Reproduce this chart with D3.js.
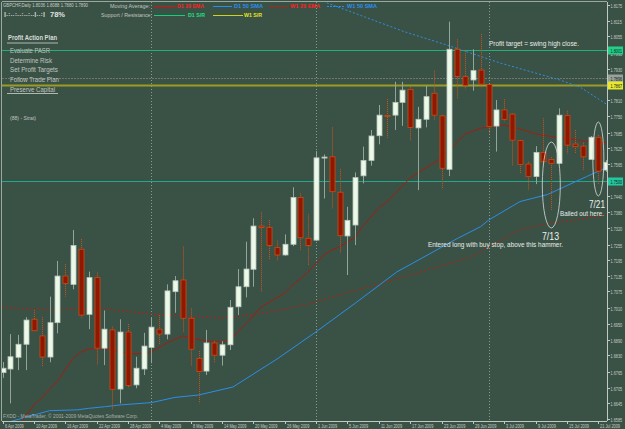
<!DOCTYPE html>
<html><head><meta charset="utf-8">
<script src="https://cdn.jsdelivr.net/npm/d3@7"></script>
<style>body{margin:0;background:#3a5246;} svg{display:block;}</style>
</head><body><svg id="c" width="625" height="429"></svg>
<script>
// ---------- DATA ----------
const openP  = [1.6763,1.6777,1.6822,1.6872,1.6968,1.6904,1.6823,1.6955,1.7134,1.7102,1.7237,1.6987,1.7128,1.6857,1.6927,1.6700,1.6919,1.6716,1.6777,1.6860,1.6930,1.6911,1.7074,1.7119,1.6972,1.6818,1.6769,1.6877,1.6830,1.6870,1.7016,1.7093,1.7160,1.7326,1.7321,1.7243,1.7215,1.7256,1.7436,1.7279,1.7272,1.7590,1.7592,1.7456,1.7288,1.7330,1.7519,1.7578,1.7673,1.7751,1.7752,1.7801,1.7851,1.7703,1.7736,1.7836,1.7749,1.7544,1.8005,1.7900,1.7887,1.7925,1.7870,1.7710,1.7772,1.7756,1.7654,1.7564,1.7516,1.7609,1.7582,1.7567,1.7750,1.7641,1.7633,1.7582,1.7667,1.7541];
const highP  = [1.6804,1.6911,1.6908,1.6976,1.7004,1.6976,1.7055,1.7192,1.7180,1.7311,1.7276,1.7151,1.7147,1.7002,1.6940,1.6968,1.6950,1.6824,1.6916,1.6973,1.6984,1.7102,1.7134,1.7247,1.7010,1.6846,1.6927,1.6885,1.6884,1.7042,1.7161,1.7266,1.7356,1.7379,1.7349,1.7270,1.7294,1.7475,1.7452,1.7371,1.7614,1.7601,1.7705,1.7544,1.7400,1.7532,1.7631,1.7695,1.7791,1.7814,1.7880,1.7880,1.7859,1.7784,1.7864,1.7923,1.7752,1.8111,1.8043,1.7999,1.8005,1.8063,1.7871,1.7810,1.7813,1.7758,1.7656,1.7573,1.7633,1.7740,1.7591,1.7778,1.7769,1.7695,1.7646,1.7672,1.7676,1.7580];
const lowP   = [1.6743,1.6645,1.6773,1.6773,1.6920,1.6786,1.6803,1.6914,1.7055,1.7083,1.6974,1.6930,1.6792,1.6792,1.6622,1.6645,1.6703,1.6703,1.6754,1.6799,1.6869,1.6891,1.6993,1.6920,1.6789,1.6645,1.6754,1.6800,1.6790,1.6850,1.6984,1.7052,1.7093,1.7074,1.7196,1.7192,1.7212,1.7249,1.7234,1.7176,1.7269,1.7432,1.7394,1.7221,1.7138,1.7253,1.7490,1.7558,1.7640,1.7665,1.7695,1.7711,1.7654,1.7464,1.7705,1.7731,1.7467,1.7518,1.7813,1.7851,1.7846,1.7855,1.7679,1.7612,1.7727,1.7557,1.7529,1.7464,1.7487,1.7557,1.7388,1.7564,1.7605,1.7603,1.7541,1.7582,1.7487,1.7534];
const closeP = [1.6780,1.6824,1.6872,1.6965,1.6924,1.6823,1.6955,1.7134,1.7106,1.7251,1.6984,1.7128,1.6857,1.6930,1.6699,1.6919,1.6714,1.6780,1.6865,1.6938,1.6911,1.7077,1.7116,1.6972,1.6853,1.6767,1.6877,1.6830,1.6870,1.7014,1.7093,1.7161,1.7326,1.7321,1.7251,1.7215,1.7256,1.7436,1.7281,1.7251,1.7588,1.7591,1.7458,1.7289,1.7348,1.7512,1.7578,1.7672,1.7752,1.7749,1.7801,1.7848,1.7705,1.7736,1.7823,1.7752,1.7548,1.8005,1.7900,1.7866,1.7923,1.7871,1.7708,1.7772,1.7736,1.7656,1.7563,1.7516,1.7609,1.7573,1.7567,1.7752,1.7637,1.7631,1.7592,1.7667,1.7537,1.7571];

// moving averages: [bar index, price]
const d1Ema20Idx = [2,4,5,7,9,10,11,13,15,17,19,21,23,24,26,28,29,31,33,36,37,38,39,41,42,43,45,46,48,49,52,54,56,57,59,61,62,64,66,68,70,72,74,76,77];
const d1Ema20Val = [1.6558,1.6639,1.6666,1.6731,1.6819,1.6842,1.6854,1.6857,1.6842,1.6835,1.6843,1.6878,1.6904,1.6896,1.6885,1.6881,1.6888,1.6950,1.7015,1.7069,1.7100,1.7123,1.7150,1.7215,1.7234,1.7246,1.7284,1.7327,1.7396,1.7418,1.7511,1.7549,1.7587,1.7618,1.7679,1.7702,1.7707,1.7714,1.7699,1.7680,1.7670,1.7662,1.7654,1.7647,1.7645];
const d1Sma50Idx = [1,6,9.5,11,13,15,19,22,25,29.4,35,40,45,50.3,53.5,58,61,62,66,69.5,74.5,77];
const d1Sma50Val = [1.6575,1.6617,1.6620,1.6626,1.6632,1.6639,1.6648,1.6668,1.6677,1.6708,1.6815,1.6920,1.7030,1.7150,1.7203,1.7278,1.7324,1.7349,1.7420,1.7447,1.7516,1.7550];
const w1Ema20Idx = [0,6,13,19,25,28,33,38.6,44,50,55,59.4,66,69.5,77];
const w1Ema20Val = [1.7013,1.7004,1.7008,1.6988,1.6978,1.6972,1.6990,1.7023,1.7070,1.7120,1.7165,1.7203,1.7311,1.7334,1.7368];
const w1Sma50Idx = [40,41.4,51.3,56.7,63.5,71.1,73.7,77];
const w1Sma50Val = [1.8205,1.8183,1.8072,1.8021,1.7952,1.7887,1.7859,1.7795];

const yTickLabels = [1.8175,1.8115,1.8055,1.7990,1.7930,1.7870,1.7810,1.7750,1.7685,1.7625,1.7565,1.7500,1.7440,1.7380,1.7320,1.7255,1.7195,1.7135,1.7075,1.7010,1.6950,1.6890,1.6830,1.6765,1.6705,1.6645,1.6585];
const xTickIdx = [0,4,8,12,16,20,24,28,32,36,40,44,48,52,56,60,64,68,72,76];
const xTickLabels = ["6 Apr 2009","10 Apr 2009","16 Apr 2009","22 Apr 2009","28 Apr 2009","4 May 2009","8 May 2009","14 May 2009","20 May 2009","26 May 2009","1 Jun 2009","5 Jun 2009","11 Jun 2009","17 Jun 2009","23 Jun 2009","29 Jun 2009","3 Jul 2009","9 Jul 2009","15 Jul 2009","21 Jul 2009"];
const monthSepIdx = [19,40,62];
const levelPrices = [1.8001,1.7896,1.7867,1.7500];
const levelLabels = ["1.8001","1.7896","1.7867","1.7500"];
const planItems = ["Evaluate PASR","Determine Risk","Set Profit Targets","Follow Trade Plan","Preserve Capital"];

// ---------- CHART ----------
const W=625,H=429, L=2, R=607, T=2, B=421;
const svg = d3.select("#c");
const afont = "Arial, 'Liberation Sans', sans-serif";
svg.append("rect").attr("width",W).attr("height",H).attr("fill","#3a5246");

const x = d3.scaleLinear().domain([0,77]).range([2.5, 2.5+7.84*77]);
const y = d3.scaleLinear().domain([1.6585,1.8175]).range([419,5]);

svg.append("defs").append("clipPath").attr("id","pc").append("rect")
  .attr("x",L).attr("y",T).attr("width",R-L).attr("height",B-T);
const plot = svg.append("g").attr("clip-path","url(#pc)");

// month separators
plot.selectAll(".ms").data(monthSepIdx).enter().append("line")
  .attr("x1",d=>Math.round(x(d))+0.5).attr("x2",d=>Math.round(x(d))+0.5)
  .attr("y1",T).attr("y2",B).attr("stroke","#8a9a92").attr("stroke-dasharray","1,2");

// level lines
const levColors = ["#22b07a","#6e786e","#9c9c22","#1fa88c"];
const levWidth = [1,1,2,1];
levelPrices.forEach((p,k)=>{
  plot.append("line").attr("x1",L).attr("x2",R)
    .attr("y1",Math.round(y(p))+0.5).attr("y2",Math.round(y(p))+0.5)
    .attr("stroke",levColors[k]).attr("stroke-width",levWidth[k])
    .attr("stroke-dasharray",k===1?"2,1":null);
});

// MAs
function maLine(idx,val){ return idx.map((d,i)=>[x(d),y(val[i])]); }
const lg = d3.line();
plot.append("path").attr("d",lg(maLine(w1Sma50Idx,w1Sma50Val))).attr("fill","none").attr("stroke","#2f8de0").attr("stroke-dasharray","2,2");
plot.append("path").attr("d",lg(maLine(w1Ema20Idx,w1Ema20Val))).attr("fill","none").attr("stroke","#b02010").attr("stroke-dasharray","2,2");
plot.append("path").attr("d",lg(maLine(d1Sma50Idx,d1Sma50Val))).attr("fill","none").attr("stroke","#2a8ee8");
plot.append("path").attr("d",lg(maLine(d1Ema20Idx,d1Ema20Val))).attr("fill","none").attr("stroke","#a01e10");

// candles
const bars = d3.range(openP.length).map(i=>({i,o:openP[i],h:highP[i],l:lowP[i],c:closeP[i]}));
const cg = plot.selectAll(".cd").data(bars).enter().append("g");
cg.append("line")
  .attr("x1",d=>Math.round(x(d.i))+0.5).attr("x2",d=>Math.round(x(d.i))+0.5)
  .attr("y1",d=>y(d.h)).attr("y2",d=>y(d.l))
  .attr("stroke",d=>d.c>=d.o?"#93a59a":"#d0501a")
  .attr("stroke-dasharray",d=>d.c>=d.o?null:"1,1");
cg.append("rect")
  .attr("x",d=>Math.round(x(d.i))-2).attr("width",5)
  .attr("y",d=>y(Math.max(d.o,d.c)))
  .attr("height",d=>Math.max(1,Math.abs(y(d.o)-y(d.c))))
  .attr("fill",d=>d.c>=d.o?"#ecf8e8":"#8e1800")
  .attr("stroke",d=>d.c>=d.o?"#b8c6bc":"#d24a12")
  .attr("stroke-width",0.8);

// frame
svg.append("line").attr("x1",R+0.5).attr("x2",R+0.5).attr("y1",T).attr("y2",B).attr("stroke","#c0c8c4");
svg.append("line").attr("x1",L).attr("x2",R).attr("y1",B+0.5).attr("y2",B+0.5).attr("stroke","#c0c8c4");
svg.append("line").attr("x1",L).attr("x2",R).attr("y1",T-0.5).attr("y2",T-0.5).attr("stroke","#9aa8a0");
svg.append("line").attr("x1",L-0.5).attr("x2",L-0.5).attr("y1",T).attr("y2",B).attr("stroke","#9aa8a0");

// y axis (compressed labels)
const ya = svg.append("g");
function ylab(t,yy,col){
  ya.append("text").attr("transform",`translate(610.5,${yy}) scale(0.68,1)`).text(t)
    .attr("font-family",afont).attr("font-size",5.6).attr("fill",col);
}
yTickLabels.forEach(p=>{
  const yy=Math.round(y(p))+0.5;
  ya.append("line").attr("x1",R).attr("x2",R+3).attr("y1",yy).attr("y2",yy).attr("stroke","#c0c8c4");
  ylab(p.toFixed(4),yy+2,"#c8ccc8");
});
const boxFill = ["#22d08a","#9aa09a","#e8e830","#22c8a0"];
levelPrices.forEach((p,k)=>{
  const yy=Math.round(y(p));
  ya.append("rect").attr("x",608).attr("y",yy-3.5).attr("width",15).attr("height",8).attr("fill",boxFill[k]);
  ylab(levelLabels[k],yy+2.5,"#10201a");
});

// x axis
xTickIdx.forEach((d,k)=>{
  const xx=Math.round(x(d))+0.5;
  svg.append("line").attr("x1",xx).attr("x2",xx).attr("y1",B).attr("y2",B+3).attr("stroke","#c0c8c4");
  svg.append("text").attr("transform",`translate(${xx+1.5},427.5) scale(0.72,1)`).text(xTickLabels[k])
    .attr("font-family",afont).attr("font-size",5.4).attr("fill","#c8ccc8");
});

// header text
function txt(t,xx,yy,size,col,weight,len){
  const e = svg.append("text").attr("x",xx).attr("y",yy).text(t).attr("font-family",afont)
    .attr("font-size",size).attr("fill",col).attr("font-weight",weight||"normal");
  if(len) e.attr("textLength",len).attr("lengthAdjust","spacingAndGlyphs");
  return e;
}
txt("GBPCHF,Daily  1.8036 1.8088 1.7880 1.7890",3,7,4.8,"#c8ccc8",null,85);
txt("|.:..:..:..:..|..:|",4,16,5,"#d0d4d0","bold",41);
txt("78%",50,16.5,7.5,"#e0e4e0","bold",15);
txt("Moving Average:",110,8,5.8,"#c0c4c0",null,40);
txt("Support / Resistance:",101,16.5,5.8,"#c0c4c0",null,51);
svg.append("line").attr("x1",154).attr("x2",175).attr("y1",6.5).attr("y2",6.5).attr("stroke","#e01010");
txt("D1 20 EMA",177,8,5.5,"#ff2020","bold",27);
svg.append("line").attr("x1",213).attr("x2",232).attr("y1",6.5).attr("y2",6.5).attr("stroke","#2a8ee8");
txt("D1 50 SMA",234,8,5.5,"#2a90f0","bold",29);
svg.append("line").attr("x1",270).attr("x2",288).attr("y1",6.5).attr("y2",6.5).attr("stroke","#e01010").attr("stroke-dasharray","2,1");
txt("W1 20 EMA",290,8,5.5,"#ff2020","bold",30);
svg.append("line").attr("x1",327).attr("x2",345).attr("y1",6.5).attr("y2",6.5).attr("stroke","#2a8ee8").attr("stroke-dasharray","2,1");
txt("W1 50 SMA",347,8,5.5,"#2a90f0","bold",30);
svg.append("line").attr("x1",154).attr("x2",185).attr("y1",15.5).attr("y2",15.5).attr("stroke","#10d080");
txt("D1 S/R",188,17,5.5,"#20e080","bold",17);
svg.append("line").attr("x1",213).attr("x2",243).attr("y1",15.5).attr("y2",15.5).attr("stroke","#d0d020");
txt("W1 S/R",244,17,5.5,"#e8e820","bold",18);

txt("Profit Action Plan",8,40,6.8,"#d8dcd8","bold",49);
svg.append("line").attr("x1",7).attr("x2",58).attr("y1",43).attr("y2",43).attr("stroke","#b0b8b0");
const planLen=[40,42,48,49,45];
planItems.forEach((t,k)=>txt(t,10,53+k*9.7,6.4,"#c0c4c0",null,planLen[k]));
svg.append("line").attr("x1",7).attr("x2",58).attr("y1",93.5).attr("y2",93.5).attr("stroke","#b0b8b0");
txt("(88) - Strat)",10,120,5.2,"#c0c4c0",null,26);

// annotations
txt("Profit target = swing high close.",489,46,7,"#e8ece8",null,90);
txt("7/21",589,207.5,10.5,"#eef2ee",null,16);
txt("Bailed out here.",560,215.5,7,"#e8ece8",null,44);
txt("7/13",542,239.5,10,"#eef2ee",null,17);
txt("Entered long with buy stop, above this hammer.",428,246.5,7,"#e8ece8",null,135);
svg.append("ellipse").attr("cx",x(70)).attr("cy",185).attr("rx",9).attr("ry",43).attr("fill","none").attr("stroke","#d8dcd8").attr("stroke-width",0.8);
svg.append("ellipse").attr("cx",x(76)).attr("cy",159).attr("rx",5.5).attr("ry",37).attr("fill","none").attr("stroke","#d8dcd8").attr("stroke-width",0.8);

txt("FXDD - MetaTrader, © 2001-2009 MetaQuotes Software Corp.",3,417.5,5,"#a8b0aa",null,135);
</script></body></html>
